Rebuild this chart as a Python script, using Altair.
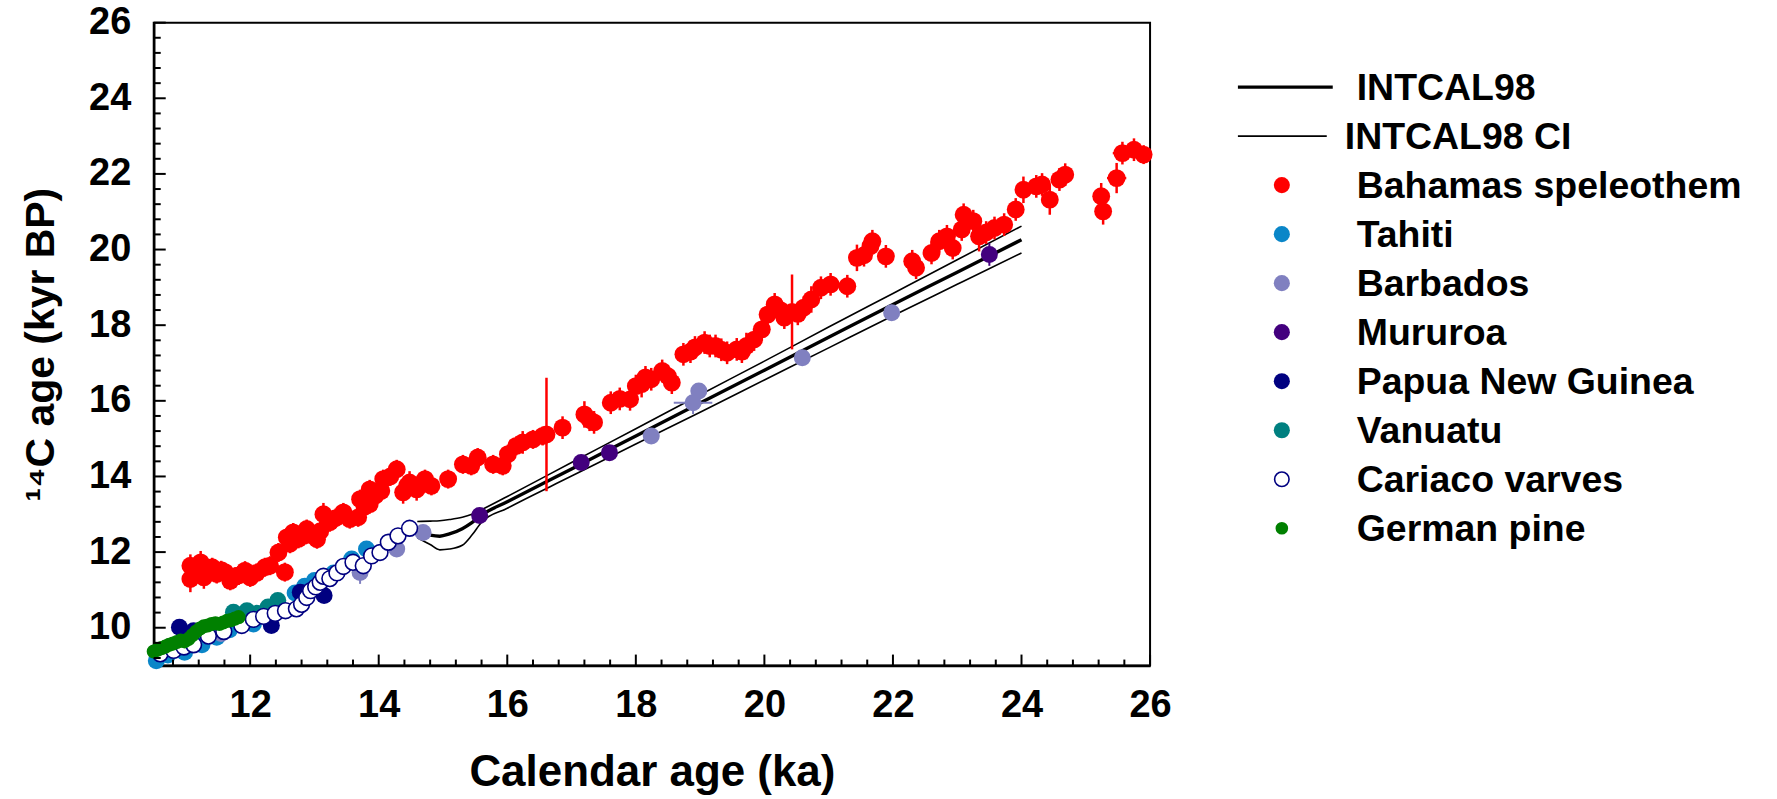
import altair as alt
import pandas as pd

# ---------------- data ----------------
# (calendar age ka, 14C age kyr BP, calendar error, 14C error)
bahamas = [
    (11.07, 11.64, 0.10, 0.30), (11.07, 11.29, 0.10, 0.35), (11.15, 11.45, 0.10, 0.30),
    (11.23, 11.73, 0.10, 0.30), (11.28, 11.33, 0.10, 0.30), (11.35, 11.50, 0.10, 0.25),
    (11.41, 11.60, 0.10, 0.25), (11.48, 11.42, 0.10, 0.25), (11.55, 11.52, 0.10, 0.25),
    (11.61, 11.47, 0.10, 0.25), (11.69, 11.24, 0.10, 0.25), (11.76, 11.35, 0.10, 0.25),
    (11.82, 11.38, 0.10, 0.25), (11.92, 11.51, 0.10, 0.25), (12.00, 11.33, 0.10, 0.25),
    (12.10, 11.45, 0.10, 0.25), (12.23, 11.60, 0.10, 0.25), (12.31, 11.64, 0.10, 0.25),
    (12.54, 11.47, 0.10, 0.25), (12.44, 11.99, 0.10, 0.25), (12.57, 12.39, 0.10, 0.25),
    (12.62, 12.22, 0.10, 0.25), (12.67, 12.52, 0.10, 0.25), (12.75, 12.35, 0.10, 0.25),
    (12.83, 12.43, 0.10, 0.25), (12.88, 12.61, 0.10, 0.25), (12.96, 12.45, 0.10, 0.25),
    (13.04, 12.34, 0.10, 0.25), (13.09, 12.55, 0.10, 0.25), (13.14, 13.00, 0.10, 0.30),
    (13.24, 12.79, 0.10, 0.25), (13.33, 12.90, 0.10, 0.25), (13.45, 13.05, 0.10, 0.25),
    (13.55, 12.87, 0.10, 0.25), (13.68, 12.92, 0.10, 0.25), (13.71, 13.40, 0.10, 0.25),
    (13.78, 13.20, 0.10, 0.25), (13.86, 13.27, 0.10, 0.25), (13.86, 13.66, 0.10, 0.25),
    (13.95, 13.50, 0.10, 0.25), (14.04, 13.62, 0.10, 0.25), (14.07, 13.93, 0.10, 0.25),
    (14.18, 14.00, 0.10, 0.25), (14.28, 14.19, 0.10, 0.25), (14.38, 13.58, 0.10, 0.30),
    (14.44, 13.75, 0.10, 0.25), (14.48, 13.84, 0.10, 0.30), (14.59, 13.66, 0.10, 0.30),
    (14.66, 13.80, 0.10, 0.25), (14.72, 13.93, 0.10, 0.25), (14.82, 13.75, 0.10, 0.25),
    (15.08, 13.93, 0.10, 0.25), (15.31, 14.32, 0.10, 0.25), (15.44, 14.28, 0.10, 0.25),
    (15.54, 14.50, 0.10, 0.25), (15.78, 14.32, 0.10, 0.25), (15.93, 14.28, 0.10, 0.25),
    (16.01, 14.59, 0.10, 0.25), (16.14, 14.81, 0.10, 0.25), (16.24, 14.90, 0.10, 0.30),
    (16.40, 14.98, 0.10, 0.25), (16.55, 15.07, 0.10, 0.25), (16.61, 15.11, 0.10, 1.50),
    (16.86, 15.29, 0.10, 0.30), (17.20, 15.64, 0.10, 0.35), (17.28, 15.50, 0.10, 0.30),
    (17.35, 15.43, 0.10, 0.30), (17.61, 15.95, 0.10, 0.30), (17.75, 16.05, 0.10, 0.30),
    (17.91, 16.04, 0.10, 0.30), (18.00, 16.39, 0.10, 0.30), (18.09, 16.44, 0.10, 0.35),
    (18.15, 16.62, 0.10, 0.30), (18.24, 16.57, 0.10, 0.30), (18.41, 16.79, 0.10, 0.30),
    (18.50, 16.65, 0.10, 0.30), (18.56, 16.48, 0.10, 0.30), (18.74, 17.23, 0.10, 0.30),
    (18.85, 17.30, 0.10, 0.30), (18.92, 17.41, 0.10, 0.30), (19.07, 17.54, 0.10, 0.30),
    (19.15, 17.45, 0.10, 0.30), (19.24, 17.45, 0.10, 0.30), (19.33, 17.35, 0.10, 0.30),
    (19.42, 17.27, 0.10, 0.30), (19.57, 17.36, 0.10, 0.30), (19.65, 17.30, 0.10, 0.30),
    (19.72, 17.45, 0.10, 0.35), (19.84, 17.62, 0.10, 0.30), (19.96, 17.89, 0.10, 0.30),
    (20.05, 18.28, 0.10, 0.30), (20.16, 18.55, 0.10, 0.30), (20.25, 18.40, 0.10, 0.30),
    (20.31, 18.20, 0.10, 0.30), (20.43, 18.35, 0.10, 0.99), (20.52, 18.30, 0.10, 0.30),
    (20.61, 18.46, 0.10, 0.30), (20.73, 18.68, 0.10, 0.35), (20.88, 18.99, 0.10, 0.30),
    (21.03, 19.08, 0.10, 0.30), (21.29, 19.03, 0.10, 0.30), (21.44, 19.78, 0.10, 0.35),
    (21.55, 19.85, 0.10, 0.30), (21.65, 20.09, 0.10, 0.35), (21.68, 20.22, 0.10, 0.30),
    (21.89, 19.82, 0.10, 0.30), (22.30, 19.69, 0.10, 0.30), (22.36, 19.52, 0.10, 0.30),
    (22.60, 19.91, 0.10, 0.30), (22.72, 20.22, 0.10, 0.30), (22.84, 20.35, 0.10, 0.30),
    (22.93, 20.04, 0.10, 0.30), (23.07, 20.53, 0.10, 0.30), (23.10, 20.92, 0.10, 0.30),
    (23.25, 20.75, 0.10, 0.30), (23.34, 20.35, 0.10, 0.40), (23.45, 20.45, 0.10, 0.30),
    (23.58, 20.57, 0.10, 0.30), (23.73, 20.66, 0.10, 0.30), (23.91, 21.06, 0.10, 0.30),
    (24.03, 21.58, 0.10, 0.35), (24.23, 21.67, 0.10, 0.30), (24.32, 21.72, 0.10, 0.30),
    (24.44, 21.32, 0.10, 0.40), (24.59, 21.85, 0.10, 0.30), (24.68, 21.98, 0.10, 0.30),
    (25.24, 21.41, 0.12, 0.35), (25.27, 21.01, 0.12, 0.35), (25.48, 21.89, 0.15, 0.40),
    (25.57, 22.55, 0.15, 0.30), (25.75, 22.64, 0.12, 0.30), (25.90, 22.51, 0.10, 0.25),
]

tahiti = [
    (10.54, 9.13, 0.05, 0.10), (10.72, 9.28, 0.05, 0.10), (10.98, 9.35, 0.05, 0.10),
    (11.25, 9.55, 0.05, 0.10), (11.48, 9.75, 0.05, 0.10), (11.68, 9.95, 0.05, 0.10),
    (12.05, 10.10, 0.05, 0.10), (12.70, 10.92, 0.05, 0.10), (12.85, 11.10, 0.05, 0.10),
    (13.00, 11.25, 0.05, 0.10), (13.30, 11.45, 0.05, 0.10), (13.58, 11.82, 0.05, 0.10),
    (13.81, 12.08, 0.05, 0.10),
]

barbados = [
    (11.55, 9.85, 0.05, 0.10), (13.71, 11.46, 0.05, 0.30), (14.28, 12.08, 0.05, 0.10),
    (14.69, 12.52, 0.05, 0.10), (18.24, 15.07, 0.05, 0.10), (18.89, 15.95, 0.30, 0.30),
    (18.98, 16.26, 0.05, 0.15), (20.59, 17.14, 0.05, 0.20), (21.98, 18.33, 0.05, 0.20),
]

mururoa = [
    (15.57, 12.97, 0.05, 0.10), (17.15, 14.37, 0.05, 0.10), (17.59, 14.63, 0.05, 0.10),
    (23.50, 19.87, 0.05, 0.30),
]

papua = [
    (10.90, 10.01, 0.05, 0.10), (11.12, 9.92, 0.05, 0.10), (12.33, 10.06, 0.05, 0.10),
    (12.78, 10.94, 0.05, 0.10), (13.15, 10.85, 0.05, 0.10),
]

vanuatu = [
    (11.74, 10.41, 0.05, 0.10), (11.95, 10.45, 0.05, 0.10), (12.10, 10.38, 0.05, 0.10),
    (12.28, 10.55, 0.05, 0.10), (12.43, 10.72, 0.05, 0.10),
]

cariaco_cal = [10.60, 10.81, 10.97, 11.12, 11.35, 11.59, 11.87, 12.05, 12.21, 12.39,
               12.55, 12.72, 12.80, 12.88, 12.94, 13.02, 13.09, 13.14, 13.24, 13.35,
               13.45, 13.60, 13.76, 13.89, 14.02, 14.15, 14.30, 14.48]
cariaco_c14 = [9.31, 9.40, 9.49, 9.55, 9.78, 9.90, 10.06, 10.22, 10.30, 10.38,
               10.45, 10.50, 10.62, 10.80, 10.98, 11.08, 11.20, 11.36, 11.30, 11.45,
               11.62, 11.73, 11.64, 11.90, 11.99, 12.26, 12.43, 12.63]

pine_cal = [10.50, 10.56, 10.62, 10.68, 10.74, 10.80, 10.86, 10.92, 10.98, 11.04,
            11.10, 11.16, 11.22, 11.28, 11.34, 11.40, 11.46, 11.52, 11.58, 11.64,
            11.70, 11.76, 11.82]
pine_c14 = [9.37, 9.42, 9.46, 9.50, 9.55, 9.58, 9.62, 9.66, 9.64, 9.70,
            9.80, 9.90, 9.98, 10.04, 10.06, 10.10, 10.12, 10.10, 10.14, 10.18,
            10.20, 10.24, 10.28]

# INTCAL98 calibration curve and its confidence envelope
intcal_cal = [14.60, 14.80, 14.95, 15.10, 15.30, 15.45, 15.60, 16.00, 17.00, 18.00,
              19.00, 20.00, 21.00, 22.00, 23.00, 24.00]
intcal_mid = [12.55, 12.45, 12.42, 12.48, 12.62, 12.78, 12.98, 13.33, 14.20, 15.07,
              15.94, 16.81, 17.68, 18.55, 19.40, 20.26]
intcal_hi = [12.81, 12.82, 12.83, 12.86, 12.92, 13.00, 13.12, 13.47, 14.37, 15.26,
             16.16, 17.05, 17.95, 18.84, 19.73, 20.62]
intcal_lo = [12.38, 12.20, 12.06, 12.08, 12.18, 12.45, 12.79, 13.16, 14.01, 14.86,
             15.70, 16.55, 17.40, 18.25, 19.08, 19.91]

series_names = ["Bahamas speleothem", "Tahiti", "Barbados", "Mururoa",
                "Papua New Guinea", "Vanuatu", "Cariaco varves", "German pine"]
series_colors = ["#FF0000", "#0A86C8", "#8080C0", "#43007E",
                 "#000080", "#008080", "#000080", "#008000"]
legend_labels = ["INTCAL98", "INTCAL98 CI"] + series_names

x_labels = [12, 14, 16, 18, 20, 22, 24, 26]
y_labels = [10, 12, 14, 16, 18, 20, 22, 24, 26]
x_minor = [round(10.8 + 0.4 * i, 1) for i in range(39)]
y_minor = [round(9.2 + 0.4 * i, 1) for i in range(43)]

# ---------------- tables ----------------
def table(name, rows):
    df = pd.DataFrame(rows, columns=["cal", "c14", "ecal", "ec14"])
    df["series"] = name
    df["c14_lo"] = df["c14"] - df["ec14"]
    df["c14_hi"] = df["c14"] + df["ec14"]
    df["cal_lo"] = df["cal"] - df["ecal"]
    df["cal_hi"] = df["cal"] + df["ecal"]
    return df

frames = {
    "Bahamas speleothem": table("Bahamas speleothem", bahamas),
    "Tahiti": table("Tahiti", tahiti),
    "Barbados": table("Barbados", barbados),
    "Mururoa": table("Mururoa", mururoa),
    "Papua New Guinea": table("Papua New Guinea", papua),
    "Vanuatu": table("Vanuatu", vanuatu),
}
cariaco_df = pd.DataFrame({"cal": cariaco_cal, "c14": cariaco_c14})
pine_df = pd.DataFrame({"cal": pine_cal, "c14": pine_c14, "series": "German pine"})

curve_mid = pd.DataFrame({"cal": intcal_cal, "c14": intcal_mid})
curve_ci = pd.concat([
    pd.DataFrame({"cal": intcal_cal, "c14": intcal_hi, "band": "upper"}),
    pd.DataFrame({"cal": intcal_cal, "c14": intcal_lo, "band": "lower"}),
])

FONT = "Liberation Sans"
XTITLE = "Calendar age (ka)"
YTITLE = "¹⁴C age (kyr BP)"
xscale = alt.Scale(domain=[10.5, 26], nice=False, zero=False)
yscale = alt.Scale(domain=[9, 26], nice=False, zero=False)
cscale = alt.Scale(domain=series_names, range=series_colors)

x_axis = alt.Axis(values=x_labels, format="d", ticks=False, grid=False,
                  domainColor="black", domainWidth=2.5,
                  labelFont=FONT, labelFontSize=38, labelFontWeight="bold",
                  labelColor="black", labelPadding=21, labelFlush=False,
                  labelOverlap=False, titleFont=FONT, titleFontSize=44,
                  titleFontWeight="bold", titleColor="black", titlePadding=26)
y_axis = alt.Axis(values=y_labels, format="d", ticks=False, grid=False,
                  domainColor="black", domainWidth=2.5,
                  labelFont=FONT, labelFontSize=38, labelFontWeight="bold",
                  labelColor="black", labelPadding=23, labelFlush=False,
                  labelOverlap=False, titleFont=FONT, titleFontSize=41,
                  titleFontWeight="bold", titleColor="black", titlePadding=26)


def xenc(field):
    return alt.X(field, scale=xscale, axis=x_axis, title=XTITLE)


def yenc(field):
    return alt.Y(field, scale=yscale, axis=y_axis, title=YTITLE)


X = xenc("cal:Q")
Y = yenc("c14:Q")

W, H = 998, 644

# inward tick marks
y_tick_df = pd.DataFrame({"v": y_minor})
y_tick_df["major"] = y_tick_df["v"].isin(y_labels)
x_tick_df = pd.DataFrame({"v": x_minor})
x_tick_df["major"] = x_tick_df["v"].isin(x_labels)

y_ticks_minor = alt.Chart(y_tick_df).transform_filter("!datum.major").mark_rule(
    color="black", strokeWidth=2).encode(
    y=yenc("v:Q"), x=alt.value(0), x2=alt.value(7))
y_ticks_major = alt.Chart(y_tick_df).transform_filter("datum.major").mark_rule(
    color="black", strokeWidth=2).encode(
    y=yenc("v:Q"), x=alt.value(0), x2=alt.value(12))
x_ticks_minor = alt.Chart(x_tick_df).transform_filter("!datum.major").mark_rule(
    color="black", strokeWidth=2).encode(
    x=xenc("v:Q"), y=alt.value(H), y2=alt.value(H - 6))
x_ticks_major = alt.Chart(x_tick_df).transform_filter("datum.major").mark_rule(
    color="black", strokeWidth=2).encode(
    x=xenc("v:Q"), y=alt.value(H), y2=alt.value(H - 11))

# calibration curve
ci_lines = alt.Chart(curve_ci).mark_line(color="black", strokeWidth=1.6,
                                         interpolate="monotone").encode(
    x=X, y=Y, detail="band:N", order="cal:Q")
mid_line = alt.Chart(curve_mid).mark_line(color="black", strokeWidth=3.4,
                                          interpolate="monotone").encode(
    x=X, y=Y, order="cal:Q")


def series_layers(df, size, bar_width):
    color = alt.Color("series:N", scale=cscale, legend=None)
    vbar = alt.Chart(df).mark_rule(strokeWidth=bar_width).encode(
        x=X, y=yenc("c14_lo:Q"), y2="c14_hi:Q", color=color)
    hbar = alt.Chart(df).mark_rule(strokeWidth=bar_width).encode(
        x=xenc("cal_lo:Q"), x2="cal_hi:Q", y=Y, color=color)
    dots = alt.Chart(df).mark_circle(size=size, opacity=1).encode(
        x=X, y=Y, color=color)
    return [vbar, hbar, dots]


point_layers = series_layers(frames["Bahamas speleothem"], 320, 2.5)
for name in series_names[1:6]:
    point_layers += series_layers(frames[name], 290, 2)

cariaco = alt.Chart(cariaco_df).mark_circle(
    size=250, fill="white", stroke="#000080", strokeWidth=1.6, opacity=1).encode(
    x=X, y=Y)
pine = alt.Chart(pine_df).mark_circle(size=200, opacity=1).encode(
    x=X, y=Y, color=alt.Color("series:N", scale=cscale, legend=None))

plot = alt.layer(
    ci_lines, mid_line, *point_layers, cariaco, pine,
    y_ticks_minor, y_ticks_major, x_ticks_minor, x_ticks_major,
).properties(width=W, height=H,
             view=alt.ViewBackground(stroke="black", strokeWidth=2))

# legend panel
leg_df = pd.DataFrame({"label": legend_labels,
                       "series": ["", ""] + series_names})
LY = alt.Y("label:N", sort=legend_labels, axis=None,
           scale=alt.Scale(range=[40, 531]))
leg_line_main = alt.Chart(leg_df).transform_filter(
    "datum.label == 'INTCAL98'").mark_rule(color="black", strokeWidth=3.4).encode(
    y=LY, x=alt.value(65), x2=alt.value(160))
leg_line_ci = alt.Chart(leg_df).transform_filter(
    "datum.label == 'INTCAL98 CI'").mark_rule(color="black", strokeWidth=1.6).encode(
    y=LY, x=alt.value(65), x2=alt.value(154))
leg_dots = alt.Chart(leg_df).transform_filter(
    "indexof(['Bahamas speleothem','Tahiti','Barbados','Mururoa','Papua New Guinea','Vanuatu'], datum.label) >= 0"
).mark_circle(size=260, opacity=1).encode(
    y=LY, x=alt.value(109), color=alt.Color("series:N", scale=cscale, legend=None))
leg_open = alt.Chart(leg_df).transform_filter(
    "datum.label == 'Cariaco varves'").mark_circle(
    size=210, fill="white", stroke="#000080", strokeWidth=1.6, opacity=1).encode(
    y=LY, x=alt.value(109))
leg_pine = alt.Chart(leg_df).transform_filter(
    "datum.label == 'German pine'").mark_circle(size=160, opacity=1).encode(
    y=LY, x=alt.value(109), color=alt.Color("series:N", scale=cscale, legend=None))
text_style = dict(align="left", baseline="middle", dy=2, font=FONT, fontSize=37.5,
                  fontWeight="bold", color="black")
leg_text_ci = alt.Chart(leg_df).transform_filter(
    "datum.label == 'INTCAL98 CI'").mark_text(**text_style).encode(
    y=LY, x=alt.value(172), text="label:N")
leg_text = alt.Chart(leg_df).transform_filter(
    "datum.label != 'INTCAL98 CI'").mark_text(**text_style).encode(
    y=LY, x=alt.value(184), text="label:N")

legend = alt.layer(leg_line_main, leg_line_ci, leg_dots, leg_open, leg_pine,
                   leg_text_ci, leg_text).properties(width=600, height=H)

chart = alt.hconcat(plot, legend, spacing=0).properties(
    padding={"left": 19, "top": 2, "right": 5, "bottom": 5},
    background="white",
).configure_view(strokeWidth=0)

chart.save("out.html", embed_options={"renderer": "svg", "actions": False})
